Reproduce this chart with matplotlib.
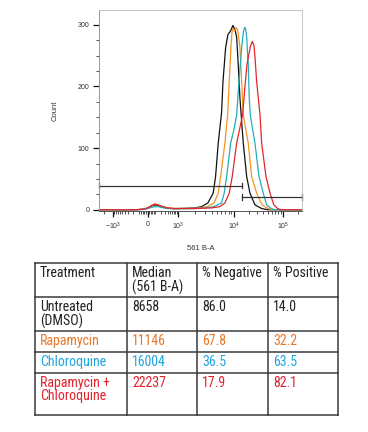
import matplotlib
matplotlib.use("Agg")
import matplotlib.pyplot as plt
import numpy as np
from matplotlib import font_manager
from matplotlib.ticker import FixedLocator, NullFormatter

# ---- data --------------------------------------------------------------
black_x = [-2800, -500, -150, -50, 0, 50, 100, 150, 250, 400, 700, 1000, 1500, 2000,
           2650, 3430, 4270, 4710, 5250, 6030, 6370, 7110, 7810, 8700, 9600, 10500,
           11350, 12240, 13250, 15490, 18160, 21200, 26800, 36700, 50000, 244000]
black_y = [0, 0, 0, 1, 3, 6, 8, 7, 4, 2.5, 2, 2, 2.5, 3,
           5, 11, 27, 54, 108, 158, 207, 263, 284, 290, 299, 292,
           280, 235, 181, 108, 54, 27, 8, 2, 0, 0]

orange_x = [-2800, -500, -150, -50, 0, 50, 100, 150, 250, 400, 700, 1000, 1500, 2000,
            3000, 3300, 4440, 5250, 5790, 6900, 7720, 8240, 8830, 9200, 9600, 10300,
            11000, 11900, 12600, 13250, 14360, 15490, 19570, 22960, 29000, 37300,
            49400, 60000, 244000]
orange_y = [0, 0, 0, 1, 3, 7, 10, 8, 5, 3, 2, 2, 2, 2.5,
            4, 5, 11, 27, 54, 108, 154, 207, 263, 287, 294, 290,
            295, 292, 278, 263, 208, 154, 108, 54, 27, 8,
            2, 0, 0]

cyan_x = [-2800, -500, -150, -50, 0, 50, 100, 150, 250, 400, 700, 1000,
          2000, 3000, 4400, 6000, 6710, 7410, 8730, 10000,
          11350, 12640, 14360, 15490, 16000, 16770, 17500, 18160, 19570, 20500, 21500,
          26800, 32400, 39600, 46400, 57000, 70000, 244000]
cyan_y = [0, 0, 0, 0.5, 2, 4, 5, 5, 3.5, 2, 1.5, 1.5,
          2, 3, 5, 11, 27, 54, 108, 130,
          154, 207, 263, 287, 293, 296, 291, 280, 235, 181, 154,
          108, 54, 27, 8, 2, 0, 0]

red_x = [-2800, -500, -150, -50, 0, 50, 100, 150, 250, 400, 700, 1000,
         2000, 4000, 5600, 6900, 8240, 9330, 11350, 13000, 15000, 16770,
         18400, 19700, 21700, 23600, 25600, 27000, 29000, 34000, 36700, 45000,
         54300, 65000, 78000, 90000, 244000]
red_y = [0, 0, 0, 1, 3, 7, 9, 8, 5, 3, 2, 2,
         2, 3, 5, 11, 27, 54, 108, 130, 154, 200,
         235, 248, 265, 273, 266, 245, 208, 154, 108, 54,
         27, 8, 2, 0, 0]

gate_split = 14500
neg_gate_y = 39
pos_gate_y = 21
x_min, x_max = -2800, 244000

x_ticks = [-1000, 0, 1000, 10000, 100000]
x_ticklabels = ["$\\mathregular{-10^{3}}$", "0", "$\\mathregular{10^{3}}$",
                "$\\mathregular{10^{4}}$", "$\\mathregular{10^{5}}$"]
y_ticks = [0, 100, 200, 300]

headers = ["Treatment", "Median\n(561 B-A)", "% Negative", "% Positive"]
treatments = ["Untreated\n(DMSO)", "Rapamycin", "Chloroquine", "Rapamycin +\nChloroquine"]
medians = ["8658", "11146", "16004", "22237"]
pct_neg = ["86.0", "67.8", "36.5", "17.9"]
pct_pos = ["14.0", "32.2", "63.5", "82.1"]
row_colors = ["#222222", "#E8782A", "#1FA6DE", "#E1222D"]
curve_colors = ["#111111", "#F7931E", "#22AEB8", "#E2252C"]

# ---- biexponential-like axis scale ------------------------------------
C = 150.0
anchor_x = np.array([-1000, 0, 1000, 1e4, 1e5])
anchor_p = np.array([113, 148, 178, 234, 283], dtype=float)
anchor_t = np.arcsinh(anchor_x / C)
lo_slope = (anchor_p[1] - anchor_p[0]) / (anchor_t[1] - anchor_t[0])
hi_slope = (anchor_p[-1] - anchor_p[-2]) / (anchor_t[-1] - anchor_t[-2])
T = np.concatenate([[-40], anchor_t, [40]])
P = np.concatenate([[anchor_p[0] - (anchor_t[0] + 40) * lo_slope], anchor_p,
                    [anchor_p[-1] + (40 - anchor_t[-1]) * hi_slope]])


def fwd(x):
    return np.interp(np.arcsinh(np.asarray(x, dtype=float) / C), T, P)


def inv(p):
    return C * np.sinh(np.interp(np.asarray(p, dtype=float), P, T))


# ---- fonts ---------------------------------------------------------------
names = {f.name for f in font_manager.fontManager.ttflist}
sans = "Liberation Sans" if "Liberation Sans" in names else "DejaVu Sans"
narrow = sans
for cand in ["Liberation Sans Narrow", "Roboto Condensed", "Open Sans Condensed"]:
    if cand in names:
        narrow = cand
        break
plt.rcParams["font.family"] = [sans, "DejaVu Sans"]

fig = plt.figure(figsize=(3.68, 4.32), dpi=100)
ax = fig.add_axes([99 / 368, 1 - 211 / 432, 203 / 368, 201 / 432])
ax.set_xscale("function", functions=(fwd, inv))

for xs, ys, col in zip([black_x, orange_x, cyan_x, red_x],
                       [black_y, orange_y, cyan_y, red_y], curve_colors):
    ax.plot(xs, ys, color=col, lw=0.9, solid_joinstyle="round")

gcol = "#333333"
ax.plot([x_min, gate_split], [neg_gate_y, neg_gate_y], color=gcol, lw=0.9, clip_on=False)
ax.plot([gate_split, x_max], [pos_gate_y, pos_gate_y], color=gcol, lw=0.9, clip_on=False)
for gx in [x_min, gate_split]:
    ax.plot([gx, gx], [neg_gate_y - 4, neg_gate_y + 4], color=gcol, lw=0.9, clip_on=False)
for gx in [gate_split, x_max]:
    ax.plot([gx, gx], [pos_gate_y - 5, pos_gate_y + 5], color=gcol, lw=0.9, clip_on=False)

ax.set_xlim(x_min, x_max)
ax.set_ylim(-2, 324)

minor_x = ([-v for v in range(100, 1000, 100)] + [-2000] + [-v for v in range(20, 100, 20)]
           + list(range(20, 100, 20)) + list(range(100, 1000, 100))
           + list(range(2000, 10000, 1000)) + list(range(20000, 100000, 10000)) + [200000])
ax.xaxis.set_major_locator(FixedLocator(x_ticks))
ax.set_xticklabels(x_ticklabels)
ax.xaxis.set_minor_locator(FixedLocator(minor_x))
ax.xaxis.set_minor_formatter(NullFormatter())
ax.yaxis.set_major_locator(FixedLocator(y_ticks))
ax.yaxis.set_minor_locator(FixedLocator(np.arange(25, 325, 25)))

ax.tick_params(which="major", length=4, width=0.9, color="#111111", labelsize=5,
               labelcolor="#333333", direction="out")
ax.tick_params(which="minor", length=2.2, width=0.6, color="#333333", direction="out")
ax.tick_params(axis="x", pad=3)
ax.tick_params(axis="y", pad=3)

for side in ["top", "right"]:
    ax.spines[side].set_color("#BBBBBB")
    ax.spines[side].set_linewidth(0.6)
ax.spines["left"].set_color("#999999")
ax.spines["left"].set_linewidth(0.7)
ax.spines["bottom"].set_color("#555555")
ax.spines["bottom"].set_linewidth(0.7)

ax.set_ylabel("Count", fontsize=5.5, color="#333333")
ax.yaxis.set_label_coords(-0.2, 0.5)
ax.set_xlabel("561 B-A", fontsize=5.5, color="#333333")
ax.xaxis.set_label_coords(0.5, -0.17)

# ---- table ---------------------------------------------------------------
tb = fig.add_axes([0, 0, 1, 1])
tb.set_xlim(0, 368)
tb.set_ylim(432, 0)
tb.axis("off")

col_edges = [35, 127, 197, 268, 338]
row_edges = [263, 297, 331, 352, 373, 415]
lc = "#3a3a3a"
for yv in row_edges:
    tb.plot([col_edges[0], col_edges[-1]], [yv, yv], color=lc, lw=1.1,
            solid_capstyle="projecting")
for xv in col_edges:
    tb.plot([xv, xv], [row_edges[0], row_edges[-1]], color=lc, lw=1.1,
            solid_capstyle="projecting")

fs = 10
kw = dict(fontsize=fs, family=[narrow, "DejaVu Sans"], va="top", ha="left",
          linespacing=0.95)
for j, h in enumerate(headers):
    tb.text(col_edges[j] + 5, row_edges[0] + 3, h, color="#222222", **kw)
for i in range(4):
    y0 = row_edges[i + 1] + 3
    for j, val in enumerate([treatments[i], medians[i], pct_neg[i], pct_pos[i]]):
        tb.text(col_edges[j] + 5, y0, val, color=row_colors[i], **kw)

fig.savefig("out.png", dpi=100)
